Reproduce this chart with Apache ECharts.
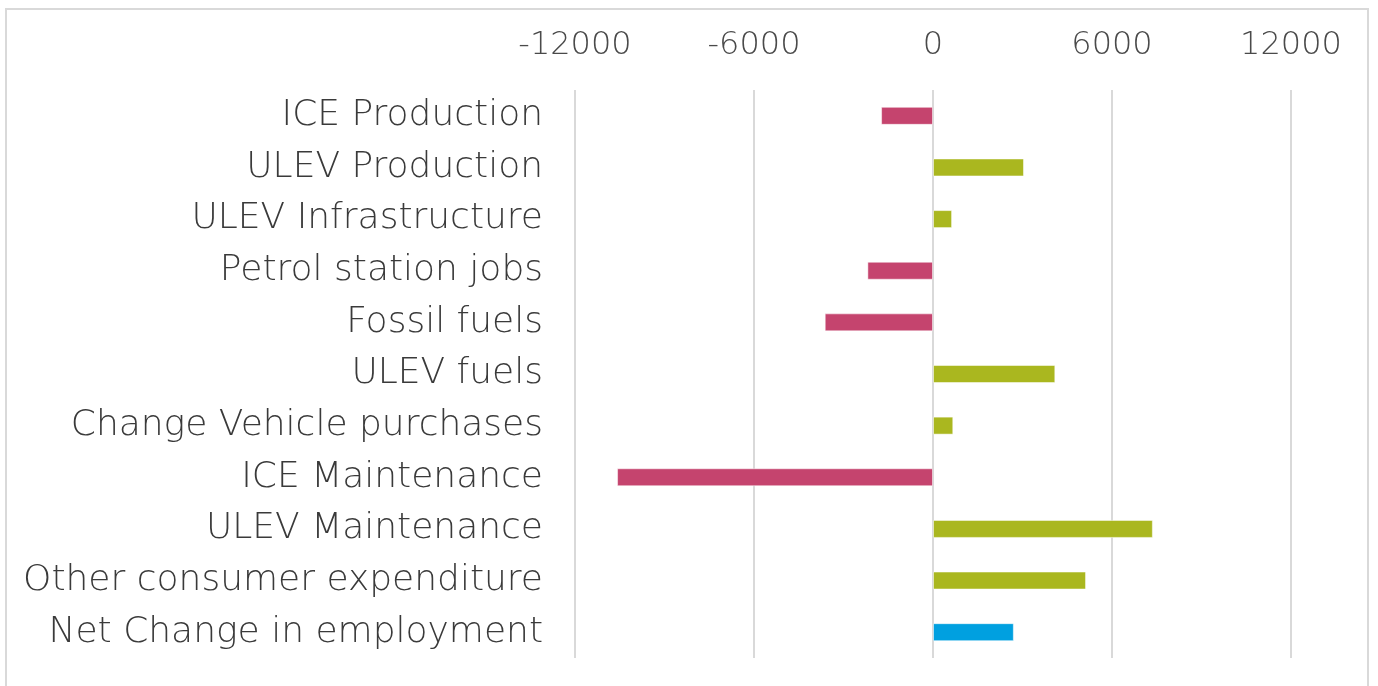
<!DOCTYPE html>
<html>
<head>
<meta charset="utf-8">
<script src="https://cdn.jsdelivr.net/npm/echarts@6/dist/echarts.min.js"></script>
<style>
    html, body { margin: 0; padding: 0; background: #fff; }
    .frame {
        position: absolute;
        left: 5px; top: 8px;
        width: 1364px; height: 690px;
        border: 2px solid #d9d9d9;
        box-sizing: border-box;
    }
    #chart { position: absolute; left: 0; top: 0; width: 1378px; height: 686px; }
</style>
</head>
<body>
<div class="frame"></div>
<div id="chart"></div>
<script>
// 分类
const categories = [
    'ICE Production',
    'ULEV Production',
    'ULEV Infrastructure',
    'Petrol station jobs',
    'Fossil fuels',
    'ULEV fuels',
    'Change Vehicle purchases',
    'ICE Maintenance',
    'ULEV Maintenance',
    'Other consumer expenditure',
    'Net Change in employment'
];
// 就业变化
const values = [-1740, 3050, 640, -2200, -3630, 4100, 680, -10590, 7370, 5130, 2710];
// 横轴刻度
const ticks = [-12000, -6000, 0, 6000, 12000];

const chart = echarts.init(document.getElementById('chart'));

const option = {
    animation: false,
    textStyle: { fontFamily: 'DejaVu Sans' },
    grid: {
        left: 575,
        right: 87,
        top: 90,
        bottom: 28
    },
    xAxis: {
        type: 'value',
        position: 'top',
        min: ticks[0],
        max: ticks[ticks.length - 1],
        interval: 6000,
        axisLine: { show: false },
        axisTick: { show: false },
        axisLabel: {
            margin: 28,
            color: '#4a4a4a',
            fontSize: 32,
            fontWeight: 300,
            formatter: v => String(v)
        },
        splitLine: {
            lineStyle: { color: '#d9d9d9', width: 2 }
        }
    },
    yAxis: {
        type: 'category',
        inverse: true,
        data: categories,
        axisLine: { show: false },
        axisTick: { show: false },
        axisLabel: {
            margin: 32,
            color: '#3a3a3a',
            fontSize: 36,
            fontWeight: 300
        }
    },
    series: [
        {
            type: 'bar',
            data: values,
            barWidth: 18,
            itemStyle: {
                borderColor: 'rgba(255,255,255,0.5)',
                borderWidth: 1,
                // 最后一项为净变化
                color: function (p) {
                    if (p.dataIndex === categories.length - 1) return '#00a0e0';
                    return p.value < 0 ? '#c5446e' : '#aab71f';
                }
            }
        }
    ]
};

chart.setOption(option);
</script>
</body>
</html>
